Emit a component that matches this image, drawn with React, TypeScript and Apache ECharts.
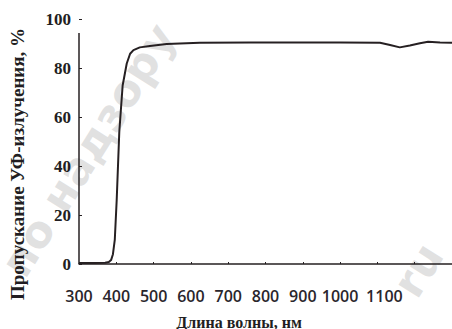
import React, { useEffect, useRef } from "react";
import * as echarts from "echarts";

const wavelengths = [300, 340, 370, 380, 386, 391, 396, 401, 408, 417, 428, 437, 446, 463, 490, 535, 624, 760, 900, 1000, 1107, 1134, 1160, 1187, 1214, 1236, 1268, 1300];
const transmission = [0.4, 0.4, 0.5, 0.8, 1.6, 4, 10, 26, 54, 73, 82, 86, 87.5, 88.6, 89.2, 90, 90.5, 90.6, 90.6, 90.6, 90.5, 89.6, 88.6, 89.4, 90.3, 90.9, 90.6, 90.5];
const xTickLabels = [300, 400, 500, 600, 700, 800, 900, 1000, 1100];
const yTickLabels = [0, 20, 40, 60, 80, 100];
const yAxisSegment = [[300, 0], [300, 94.5]];
const xAxisName = "Длина волны, нм";
const yAxisName = "Пропускание УФ-излучения, %";
const watermark = "по надзору";
const watermark2 = "ru";

export default function App() {
  const ref = useRef<HTMLDivElement>(null);
  useEffect(() => {
    if (!ref.current) return;
    const chart = echarts.init(ref.current, undefined, { renderer: "svg" });
    const dark = "#262022";
    chart.setOption({
      animation: false,
      backgroundColor: "#ffffff",
      grid: { left: 79, right: 0, top: 19.5, bottom: 65, containLabel: false, outerBoundsMode: "none" },
      xAxis: {
        type: "value",
        min: 300,
        max: 1300,
        interval: 100,
        axisLine: { show: true, lineStyle: { color: dark, width: 1.5 } },
        axisTick: { show: true, inside: true, length: 2, lineStyle: { color: dark } },
        splitLine: { show: false },
        axisLabel: {
          margin: 24,
          fontFamily: "Open Sans",
          fontWeight: 600,
          fontSize: 16,
          color: "#2a262c",
          formatter: (v: number) => {
            if (xTickLabels.indexOf(v) < 0) return "";
            if (v === 1100) return "{s|" + v + "}";
            return String(v);
          },
          rich: {
            s: { fontFamily: "Open Sans", fontWeight: 600, fontSize: 16, color: "#2a262c", padding: [0, 0, 0, 14] },
          },
        },
      },
      yAxis: {
        type: "value",
        min: 0,
        max: 100,
        interval: 20,
        axisLine: { show: false },
        axisTick: { show: true, inside: true, length: 3, lineStyle: { color: dark } },
        splitLine: { show: false },
        axisLabel: {
          margin: 8,
          fontFamily: "Liberation Serif",
          fontWeight: "bold",
          fontSize: 17,
          color: "#221e22",
          formatter: (v: number) => (yTickLabels.indexOf(v) >= 0 ? String(v) : ""),
        },
      },
      graphic: [
        {
          type: "text",
          x: 88,
          y: 150,
          rotation: (58 * Math.PI) / 180,
          z: 0,
          silent: true,
          style: { text: watermark, font: "bold 44px 'DejaVu Sans'", fill: "rgba(200,200,200,0.55)", align: "center", verticalAlign: "middle" },
        },
        {
          type: "text",
          x: 418,
          y: 270,
          rotation: (58 * Math.PI) / 180,
          z: 0,
          silent: true,
          style: { text: watermark2, font: "bold 44px 'DejaVu Sans'", fill: "rgba(200,200,200,0.55)", align: "center", verticalAlign: "middle" },
        },
        {
          type: "text",
          x: 239,
          y: 322,
          z: 10,
          style: { text: xAxisName, font: "bold 16px 'Liberation Serif'", fill: "#221e22", align: "center", verticalAlign: "middle" },
        },
        {
          type: "text",
          x: 17.5,
          y: 164,
          rotation: Math.PI / 2,
          z: 10,
          style: { text: yAxisName, font: "bold 19px 'Liberation Serif'", fill: "#221e22", align: "center", verticalAlign: "middle" },
        },
      ],
      series: [
        {
          type: "line",
          data: wavelengths.map((w, i) => [w, transmission[i]]),
          showSymbol: false,
          symbol: "none",
          z: 5,
          lineStyle: { color: dark, width: 2 },
        },
        {
          type: "line",
          data: yAxisSegment,
          showSymbol: false,
          symbol: "none",
          clip: false,
          z: 6,
          lineStyle: { color: dark, width: 1.5 },
        },
      ],
    });
    return () => chart.dispose();
  }, []);
  return <div ref={ref} style={{ position: "fixed", left: 0, top: 0, width: 452, height: 329 }} />;
}
